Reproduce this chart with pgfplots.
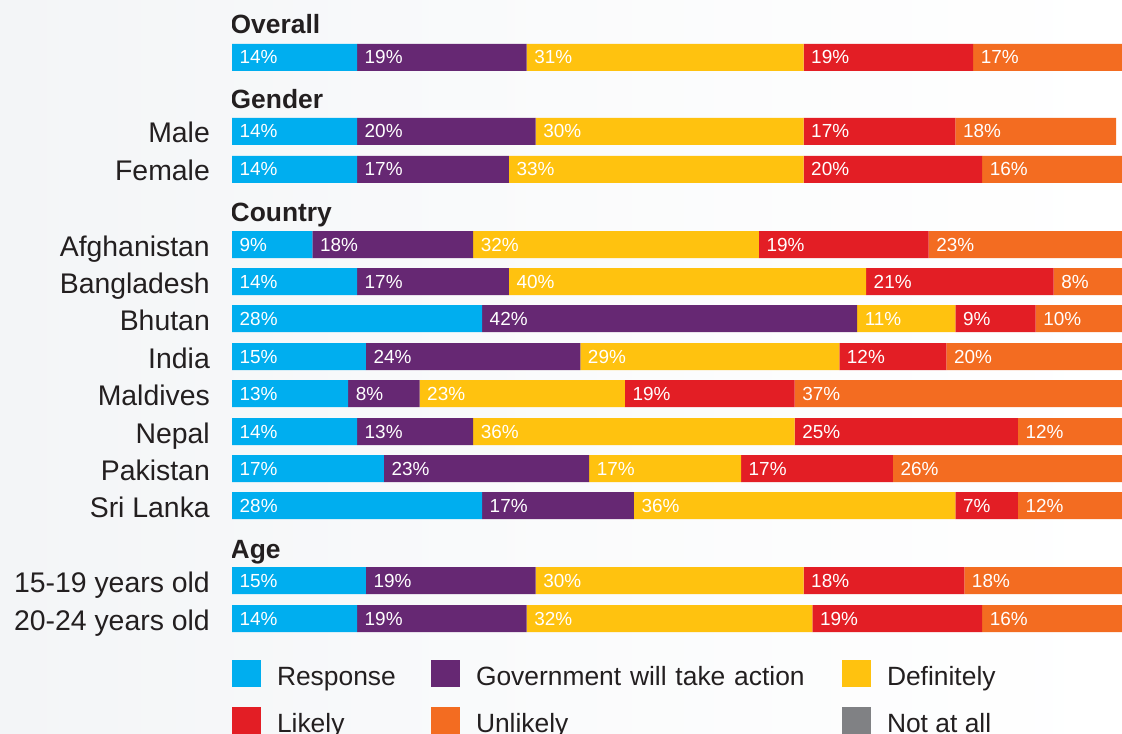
\documentclass[border=0pt]{standalone}
\usepackage{pgfplots}
\pgfplotsset{compat=1.18}
\usepackage{pgfplotstable}
\usepackage{fontspec}
\setmainfont{Liberation Sans}
\definecolor{cblue}{HTML}{00AEEF}
\definecolor{cpurple}{HTML}{662873}
\definecolor{cyellow}{HTML}{FFC20F}
\definecolor{cred}{HTML}{E31E25}
\definecolor{corange}{HTML}{F36C21}
\definecolor{cgray}{HTML}{808184}
\definecolor{ctext}{HTML}{231F20}
\definecolor{bgl}{HTML}{F3F5F7}
\pgfplotsset{sq/.style={legend image code/.code={\fill[##1] (0bp,-13.5bp) rectangle (29bp,13.5bp);}}}
\pgfplotstableread{
y r g d l u
-57.5 14 19 31 19 17
-131.5 14 20 30 17 18
-169.5 14 17 33 20 16
-244.5 9 18 32 19 23
-281.5 14 17 40 21 8
-318.5 28 42 11 9 10
-356.5 15 24 29 12 20
-393.5 13 8 23 19 37
-431.5 14 13 36 25 12
-468.5 17 23 17 17 26
-505.5 28 17 36 7 12
-580.5 15 19 30 18 18
-618.5 14 19 32 19 16
}\data
\begin{document}
\begin{tikzpicture}[x=1bp,y=1bp]
\shade[left color=bgl, right color=white, middle color=white!60!bgl] (0,0) rectangle (1122,-734);
\begin{axis}[
  at={(232bp,-734bp)}, anchor=south west,
  scale only axis, width=901.93bp, height=734bp,
  xmin=0, xmax=101, ymin=-734, ymax=0,
  xbar stacked, bar width=27bp,
  axis line style={draw=none}, major tick length=0pt,
  xtick=\empty,
  ytick={-57.5,-131.5,-169.5,-244.5,-281.5,-318.5,-356.5,-393.5,-431.5,-468.5,-505.5,-580.5,-618.5},
  yticklabels={,Male,Female,Afghanistan,Bangladesh,Bhutan,India,Maldives,Nepal,Pakistan,Sri Lanka,15-19 years old,20-24 years old},
  yticklabel style={font=\fontsize{28.5}{33}\selectfont, text=ctext, anchor=base east, inner sep=0pt, xshift=-22bp, yshift=-11.5bp},
  point meta=explicit,
  nodes near coords={\pgfmathfloattoint{\pgfplotspointmeta}\edef\myv{\pgfmathresult}\rlap{\kern\dimexpr 7bp-4.465bp*\myv\relax\myv\%}},
  nodes near coords style={anchor=base west, inner sep=0pt, yshift=-6.5bp, font=\fontsize{19}{22}\selectfont, text=white},
  legend columns=3,
  legend style={draw=none, fill=none, inner sep=0pt, outer sep=0pt,
    at={(axis description cs:0,0.10082)}, anchor=north west,
    row sep=20bp, font=\fontsize{26.5}{30}\selectfont, text=ctext,
    nodes={inner sep=0pt, text height=25bp, text depth=2bp},
    /tikz/column 1/.style={column sep=16bp},
    /tikz/column 3/.style={column sep=16bp},
    /tikz/column 5/.style={column sep=16bp},
    /tikz/column 2/.style={column sep=0bp, nodes={text width=154bp}},
    /tikz/column 4/.style={column sep=0bp, nodes={text width=366bp}}},
  legend cell align=left,
]
\addplot[sq, fill=cblue, draw=none] table[x=r, y=y, meta=r] {\data};
\addlegendentry{Response}
\addplot[sq, fill=cpurple, draw=none] table[x=g, y=y, meta=g] {\data};
\addlegendentry{Government will take action}
\addplot[sq, fill=cyellow, draw=none] table[x=d, y=y, meta=d] {\data};
\addlegendentry{Definitely}
\addplot[sq, fill=cred, draw=none] table[x=l, y=y, meta=l] {\data};
\addlegendentry{Likely}
\addplot[sq, fill=corange, draw=none] table[x=u, y=y, meta=u] {\data};
\addlegendentry{Unlikely}
\addlegendimage{sq, fill=cgray, draw=none}
\addlegendentry{Not at all}
\node[anchor=base west, inner sep=0pt, font=\bfseries\fontsize{26.5}{30}\selectfont, text=ctext, xshift=-1.5bp] at (axis cs:0,-34) {Overall};
\node[anchor=base west, inner sep=0pt, font=\bfseries\fontsize{26.5}{30}\selectfont, text=ctext, xshift=-1.5bp] at (axis cs:0,-109) {Gender};
\node[anchor=base west, inner sep=0pt, font=\bfseries\fontsize{26.5}{30}\selectfont, text=ctext, xshift=-1.5bp] at (axis cs:0,-221) {Country};
\node[anchor=base west, inner sep=0pt, font=\bfseries\fontsize{26.5}{30}\selectfont, text=ctext, xshift=-1.5bp] at (axis cs:0,-558) {Age};
\end{axis}
\pgfresetboundingbox
\path[use as bounding box] (0,0) rectangle (1122,-734);
\end{tikzpicture}
\end{document}
